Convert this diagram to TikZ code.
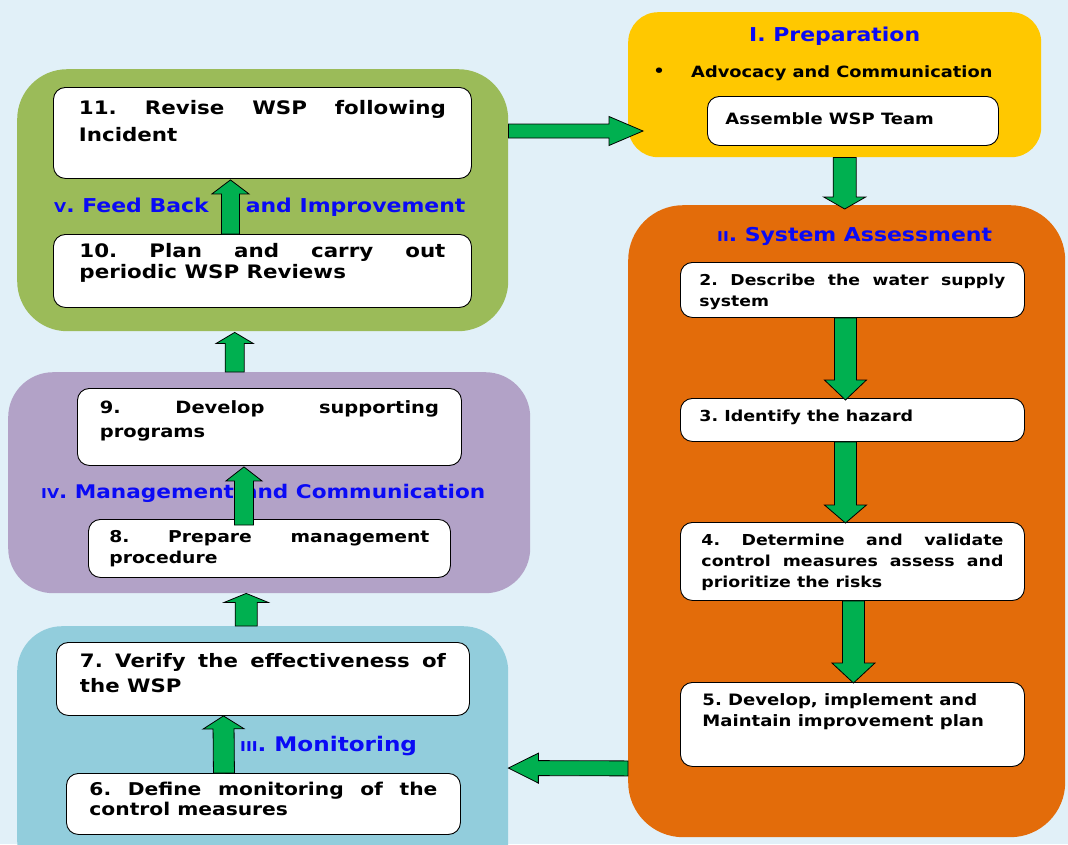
\documentclass[tikz,border=0pt]{standalone}
\usepackage{fontspec}
\setmainfont{DejaVu Sans}[FakeStretch=1.15]
\usetikzlibrary{calc}

\definecolor{bgblue}{HTML}{E1F0F8}
\definecolor{prepyellow}{HTML}{FFC800}
\definecolor{assessorange}{HTML}{E36C0A}
\definecolor{monitorblue}{HTML}{92CDDC}
\definecolor{managepurple}{HTML}{B2A2C7}
\definecolor{feedgreen}{HTML}{9BBB59}
\definecolor{arrowgreen}{HTML}{00B050}
\definecolor{titleblue}{HTML}{0A0AF5}

\hyphenpenalty=10000
\exhyphenpenalty=10000
\tolerance=10000
\hbadness=10000
\frenchspacing

\newcommand{\steptext}[3]{\parbox[c][#1][t]{#2}{\frenchspacing\strut #3}}
\newcommand{\smallnum}{\fontsize{13.6}{13.6}\selectfont}
\newcommand{\fatarrow}[5]{%
  \coordinate (fa-c) at ($(#2)!#5!(#1)$);
  \draw[fatarrow] ($(#1)!#3!-90:(#2)$) -- ($(fa-c)!#3!90:(#1)$) -- ($(fa-c)!#4!90:(#1)$)
    -- (#2) -- ($(fa-c)!#4!-90:(#1)$) -- ($(fa-c)!#3!-90:(#1)$) -- ($(#1)!#3!90:(#2)$) -- cycle;
}

\begin{document}
\begin{tikzpicture}[x=1pt,y=-1pt,
    stage/.style={inner sep=0pt, anchor=north west},
    stepbox/.style={draw=black, line width=0.9pt, fill=white, rounded corners=12pt, inner sep=0pt, anchor=north west},
    title/.style={anchor=base west, inner sep=0pt, text=titleblue, font=\fontsize{19.1}{22}\selectfont\bfseries},
    fatarrow/.style={draw=black, line width=0.8pt, fill=arrowgreen, line join=miter}]
  \useasboundingbox (0,0) rectangle (1068,844);
  \fill[bgblue] (0,0) rectangle (1068,844);
  \clip (0,0) rectangle (1068,844);

  \node[stage, fill=prepyellow, rounded corners=30pt, minimum width=413pt, minimum height=145pt] (prep) at (628,12) {};
  \node[stage, fill=assessorange, rounded corners=55pt, minimum width=437pt, minimum height=632pt] (assess) at (628,205) {};
  \node[stage, fill=feedgreen, rounded corners=50pt, minimum width=491pt, minimum height=262pt] (feedback) at (17,69) {};
  \node[stage, fill=managepurple, rounded corners=45pt, minimum width=522pt, minimum height=221pt] (manage) at (8,372) {};
  \node[stage, fill=monitorblue, rounded corners=45pt, minimum width=491pt, minimum height=260pt] (monitor) at (17,626) {};

  \node[title] (preptitle) at (749,41) {I. Preparation};
  \node[title] (assesstitle) at (717,241) {{\smallnum II}. System Assessment};
  \node[title] (feedtitle) at (54,212) {{\smallnum V}. Feed Back\hspace{37pt}and Improvement};
  \node[title, font=\fontsize{18.8}{22}\selectfont\bfseries] (managetitle) at (41,498) {{\smallnum IV}. Management\hspace{9pt}and Communication};
  \node[title, font=\fontsize{20.1}{22}\selectfont\bfseries] (monitortitle) at (240,751) {{\smallnum III}. Monitoring};

  \node[inner sep=0pt, font=\fontsize{15.6}{18}\selectfont\bfseries] (bullet) at (659,72) {\textbullet};
  \node[anchor=base west, inner sep=0pt, font=\fontsize{15.5}{18}\selectfont\bfseries] (advocacy) at (691,77) {Advocacy and Communication};

  \node[stepbox, minimum width=291pt, minimum height=49pt, font=\fontsize{15.6}{28}\selectfont\bfseries] (team) at (707,96)
    {\steptext{33pt}{255pt}{Assemble WSP Team}};
  \node[stepbox, minimum width=344pt, minimum height=55pt, font=\fontsize{15}{21}\selectfont\bfseries] (s2) at (680,262)
    {\steptext{39pt}{306pt}{2. Describe the water supply\linebreak system}};
  \node[stepbox, minimum width=344pt, minimum height=43pt, font=\fontsize{15.2}{21}\selectfont\bfseries] (s3) at (680,398)
    {\steptext{27pt}{306pt}{3. Identify the hazard}};
  \node[stepbox, minimum width=344pt, minimum height=78pt, font=\fontsize{15.1}{21}\selectfont\bfseries] (s4) at (680,522)
    {\steptext{62pt}{302pt}{4. Determine and validate\linebreak control measures assess and\linebreak prioritize the risks}};
  \node[stepbox, minimum width=344pt, minimum height=84pt, font=\fontsize{15.7}{21}\selectfont\bfseries] (s5) at (680,682)
    {\steptext{68pt}{300pt}{5. Develop, implement and\newline Maintain improvement plan}};
  \node[stepbox, minimum width=394pt, minimum height=61pt, font=\fontsize{17.6}{20}\selectfont\bfseries] (s6) at (66,773)
    {\steptext{45pt}{348pt}{6. Define monitoring of the\linebreak control measures}};
  \node[stepbox, minimum width=413pt, minimum height=73pt, font=\fontsize{18.5}{25}\selectfont\bfseries] (s7) at (56,642)
    {\steptext{57pt}{366pt}{7. Verify the effectiveness of\linebreak the WSP}};
  \node[stepbox, minimum width=362pt, minimum height=58pt, font=\fontsize{16.3}{21}\selectfont\bfseries] (s8) at (88,519)
    {\steptext{42pt}{320pt}{8. Prepare management\linebreak procedure}};
  \node[stepbox, minimum width=384pt, minimum height=77pt, font=\fontsize{16.9}{24}\selectfont\bfseries] (s9) at (77,388)
    {\steptext{61pt}{339pt}{9. Develop supporting\linebreak programs}};
  \node[stepbox, minimum width=418pt, minimum height=73pt, font=\fontsize{18.6}{21}\selectfont\bfseries] (s10) at (53,234)
    {\steptext{57pt}{366pt}{10. Plan and carry out\linebreak periodic WSP Reviews}};
  \node[stepbox, minimum width=418pt, minimum height=91pt, font=\fontsize{18.6}{27}\selectfont\bfseries] (s11) at (53,87)
    {\steptext{75pt}{367pt}{11. Revise WSP following\linebreak Incident}};

  \coordinate (fb-out) at ($(feedback.north east)+(0,62)$);
  \coordinate (prep-in) at ($(prep.north west)+(15,119)$);
  \coordinate (prep-out) at ($(prep.south)+(10,0)$);
  \coordinate (assess-in) at ($(assess.north)+(-2,4)$);
  \coordinate (s2-out) at ($(s2.south)+(-7,0)$);
  \coordinate (s3-in) at ($(s3.north)+(-7,2)$);
  \coordinate (s3-out) at ($(s3.south)+(-7,0)$);
  \coordinate (s4-in) at ($(s4.north)+(-7,1)$);
  \coordinate (s4-out) at ($(s4.south)+(1,0)$);
  \coordinate (s5-in) at ($(s5.north)+(1,1)$);
  \coordinate (assess-out) at ($(assess.south west)+(0,-69)$);
  \coordinate (monitor-in) at ($(monitor.north east)+(0,142)$);
  \coordinate (s6-out) at ($(s6.north)+(-39.5,0)$);
  \coordinate (s7-in) at ($(s7.south)+(-39.5,0)$);
  \coordinate (monitor-out) at ($(monitor.north)+(-16.5,0)$);
  \coordinate (manage-in) at ($(manage.south)+(-23,0)$);
  \coordinate (s8-out) at ($(s8.north)+(-25.5,6)$);
  \coordinate (s9-in) at ($(s9.south)+(-25.5,1)$);
  \coordinate (manage-out) at ($(manage.north)+(-34.5,0)$);
  \coordinate (feedback-in) at ($(feedback.south)+(-28,1)$);
  \coordinate (s10-out) at ($(s10.north)+(-32,0)$);
  \coordinate (s11-in) at ($(s11.south)+(-32,1)$);

  \fatarrow{fb-out}{prep-in}{7pt}{14.5pt}{34pt}
  \fatarrow{prep-out}{assess-in}{11.5pt}{21pt}{12pt}
  \fatarrow{s2-out}{s3-in}{11pt}{21pt}{20pt}
  \fatarrow{s3-out}{s4-in}{11pt}{21pt}{18pt}
  \fatarrow{s4-out}{s5-in}{11pt}{21.5pt}{20pt}
  \fatarrow{assess-out}{monitor-in}{7.5pt}{15pt}{30pt}
  \fatarrow{s6-out}{s7-in}{10.5pt}{20.5pt}{13pt}
  \fatarrow{monitor-out}{manage-in}{11pt}{22pt}{9pt}
  \fatarrow{s8-out}{s9-in}{9.5pt}{18pt}{14pt}
  \fatarrow{manage-out}{feedback-in}{9.5pt}{18.5pt}{11pt}
  \fatarrow{s10-out}{s11-in}{9pt}{18.5pt}{14pt}
\end{tikzpicture}
\end{document}
